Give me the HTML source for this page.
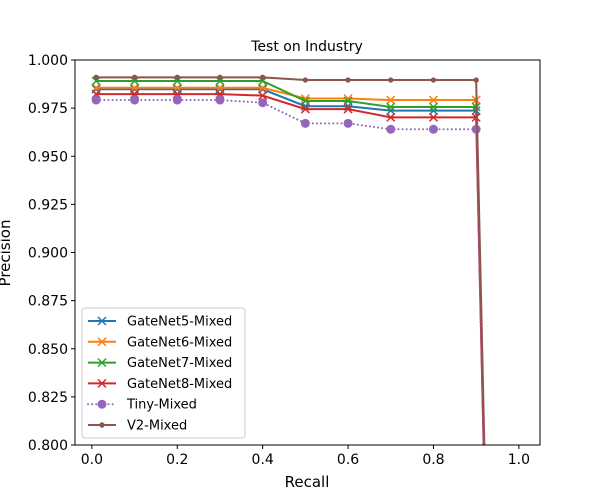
<!DOCTYPE html>
<html><head><meta charset="utf-8"><style>
html,body{margin:0;background:#fff;overflow:hidden;width:600px;height:500px;font-family:"Liberation Sans","DejaVu Sans",sans-serif}
svg{display:block}
svg text{font-family:"DejaVu Sans","Liberation Sans",sans-serif}
</style></head><body>
<svg id="chart" width="600" height="500"></svg>
<script>
const recall=[0.01,0.1,0.2,0.3,0.4,0.5,0.6,0.7,0.8,0.9,1.0];
const seriesNames=["GateNet5-Mixed","GateNet6-Mixed","GateNet7-Mixed","GateNet8-Mixed","Tiny-Mixed","V2-Mixed"];
const gatenet5=[0.9848,0.9848,0.9848,0.9848,0.9848,0.976,0.976,0.9737,0.9737,0.9737,0.0];
const gatenet6=[0.9856,0.9856,0.9856,0.9856,0.9856,0.980,0.980,0.9792,0.9792,0.9792,0.0];
const gatenet7=[0.9891,0.9891,0.9891,0.9891,0.9891,0.9787,0.9787,0.9756,0.9756,0.9756,0.0];
const gatenet8=[0.9823,0.9823,0.9823,0.9823,0.9815,0.9745,0.9745,0.9702,0.9702,0.9702,0.0];
const tiny=[0.9792,0.9792,0.9792,0.9792,0.9778,0.9671,0.9671,0.964,0.964,0.964,0.0];
const v2=[0.991,0.991,0.991,0.991,0.991,0.9896,0.9896,0.9896,0.9896,0.9896,0.0];
const xTicks=[0.0,0.2,0.4,0.6,0.8,1.0];
const yTicks=[0.800,0.825,0.850,0.875,0.900,0.925,0.950,0.975,1.000];
const NS="http://www.w3.org/2000/svg";
const svg=document.getElementById('chart');
const L=75,R=540,T=60,B=445,xmin=-0.0395,xmax=1.0495,ymin=0.8,ymax=1.0;
const xs=v=>L+(v-xmin)/(xmax-xmin)*(R-L);
const ys=v=>B-(v-ymin)/(ymax-ymin)*(B-T);
function mk(tag,attrs,parent){const e=document.createElementNS(NS,tag);for(const k in attrs)e.setAttribute(k,attrs[k]);(parent||svg).appendChild(e);return e;}
const title=mk('text',{x:307,y:51,'text-anchor':'middle','font-size':14});title.textContent='Test on Industry';


const colors=["#1f77b4","#ff7f0e","#2ca02c","#d62728","#9467bd","#8c564b"];
const all=[gatenet5,gatenet6,gatenet7,gatenet8,tiny,v2];
const g=mk('g',{});


function marker(par,type,x,y,c){
 if(type==='x'){mk('path',{d:`M${x-4},${y-4}L${x+4},${y+4}M${x-4},${y+4}L${x+4},${y-4}`,stroke:c,'stroke-width':1.5,fill:'none'},par);}
 else if(type==='o'){mk('circle',{cx:x,cy:y,r:4.5,fill:c},par);}
 else {mk('circle',{cx:x,cy:y,r:2.7,fill:c},par);}
}
// clip series in data space to y >= ymin
function clipPts(d){
 const out=[];
 for(let j=0;j<d.length;j++){
  const v=d[j],x=recall[j];
  if(v>=ymin){out.push([x,v]);}
  else if(j>0&&d[j-1]>=ymin){
   const p=d[j-1],px=recall[j-1];
   const t=(p-ymin)/(p-v);
   out.push([px+t*(x-px),ymin]);
  }
 }
 return out;
}
all.forEach((d,i)=>{
 const sg=mk('g',{},g);
 
 
 const pts=clipPts(d).map(p=>xs(p[0])+','+ys(p[1])).join(' ');
 const attrs={points:pts,fill:'none',stroke:colors[i],'stroke-width':2};
 if(i===4){attrs['stroke-dasharray']='0.1,4';attrs['stroke-linecap']='round';}
 mk('polyline',attrs,sg);
 const type=i<4?'x':(i===4?'o':'d');
 d.forEach((v,j)=>{if(v>=ymin&&v<=ymax)marker(sg,type,xs(recall[j]),ys(v),colors[i]);});
});
mk('rect',{x:L,y:T,width:R-L,height:B-T,fill:'none',stroke:'#000','stroke-width':1});
xTicks.forEach(t=>{const x=xs(t);mk('line',{x1:x,y1:B,x2:x,y2:B+4,stroke:'#000'});
 const tx=mk('text',{x:x,y:B+19,'text-anchor':'middle','font-size':14});tx.textContent=t.toFixed(1);
 
 });
yTicks.forEach(t=>{const y=ys(t);mk('line',{x1:L-4,y1:y,x2:L,y2:y,stroke:'#000'});
 const tx=mk('text',{x:L-7,y:y+5,'text-anchor':'end','font-size':14});tx.textContent=t.toFixed(3);
 
 });
const xl=mk('text',{x:307,y:487,'text-anchor':'middle','font-size':15});xl.textContent='Recall';


const yl=mk('text',{x:0,y:0,'text-anchor':'middle','font-size':15,transform:'translate(10,253) rotate(-90)'});yl.textContent='Precision';


const lg=mk('g',{});


mk('rect',{x:82,y:308,width:163,height:130,rx:3,fill:'#fff','fill-opacity':0.8,stroke:'#ccc'},lg);
seriesNames.forEach((n,i)=>{
 const y=321+i*20.8;const eg=mk('g',{},lg);
 
 
 const a={x1:88,y1:y,x2:116,y2:y,stroke:colors[i],'stroke-width':2};
 if(i===4){a['stroke-dasharray']='0.1,4';a['stroke-linecap']='round';}
 mk('line',a,eg);
 marker(eg,i<4?'x':(i===4?'o':'d'),102,y,colors[i]);
 const t=mk('text',{x:127,y:y+4.5,'font-size':13},eg);t.textContent=n;
});
</script>
</body></html>
